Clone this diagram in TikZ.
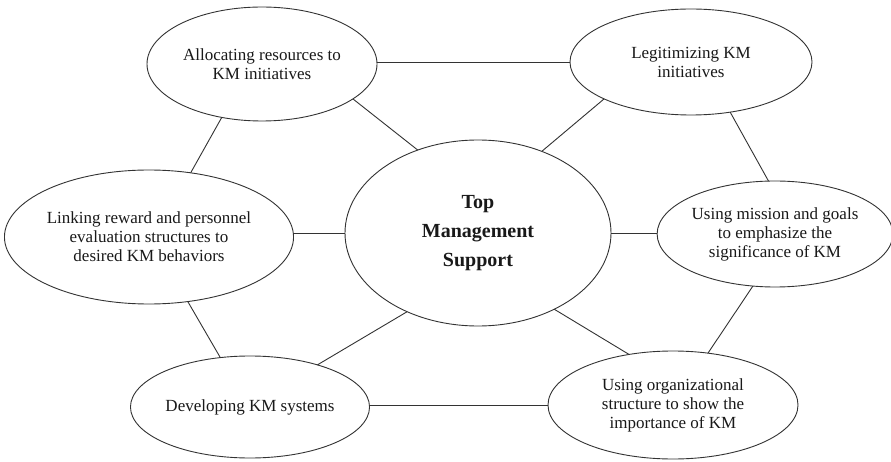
\documentclass[tikz,border=0pt]{standalone}
\usepackage{fontspec}
\setmainfont{Liberation Serif}
\usetikzlibrary{shapes.geometric}
\begin{document}
\begin{tikzpicture}[x=1pt,y=-1pt,
  bub/.style={ellipse, draw=black!80, line width=0.9pt, fill=white, inner sep=0pt, outer sep=0pt,
    align=center, text=black!90, font=\fontsize{17}{19}\selectfont},
  link/.style={draw=black!80, line width=0.9pt}]
\useasboundingbox[fill=white] (0,0) rectangle (891,462);
\node[bub, minimum width=230pt, minimum height=114pt] (A) at (262,64) {Allocating resources to\\KM initiatives};
\node[bub, minimum width=242pt, minimum height=106pt] (B) at (691,62) {Legitimizing KM\\initiatives};
\node[bub, minimum width=266pt, minimum height=186pt, font=\bfseries\fontsize{20}{29}\selectfont] (C) at (478,233) {Top\\Management\\Support};
\node[bub, minimum width=272pt, minimum height=134pt] (L) at (149,237) {Linking reward and personnel\\evaluation structures to\\desired KM behaviors};
\node[bub, minimum width=228pt, minimum height=106pt] (M) at (775,234) {Using mission and goals\\to emphasize the\\significance of KM};
\node[bub, minimum width=234pt, minimum height=102pt] (D) at (250,407) {Developing KM systems};
\node[bub, minimum width=250pt, minimum height=108pt] (O) at (673,405) {Using organizational\\structure to show the\\importance of KM};
\draw[link] (A.east |- B.west) -- (B.west);
\draw[link] (A.-21.8) -- (C.126.3);
\draw[link] (A.-127.4) -- (L.57.8);
\draw[link] (B.203.9) -- (C.52.4);
\draw[link] (B.-52.6) -- (M.97.5);
\draw[link] (L.east |- C.west) -- (C.west);
\draw[link] (C.east) -- (C.east -| M.west);
\draw[link] (L.-59.8) -- (D.121);
\draw[link] (C.228.1) -- (D.32.7);
\draw[link] (C.-45.4) -- (O.131.4);
\draw[link] (M.247.8) -- (O.56);
\draw[link] (D.east |- O.west) -- (O.west);
\end{tikzpicture}
\end{document}
